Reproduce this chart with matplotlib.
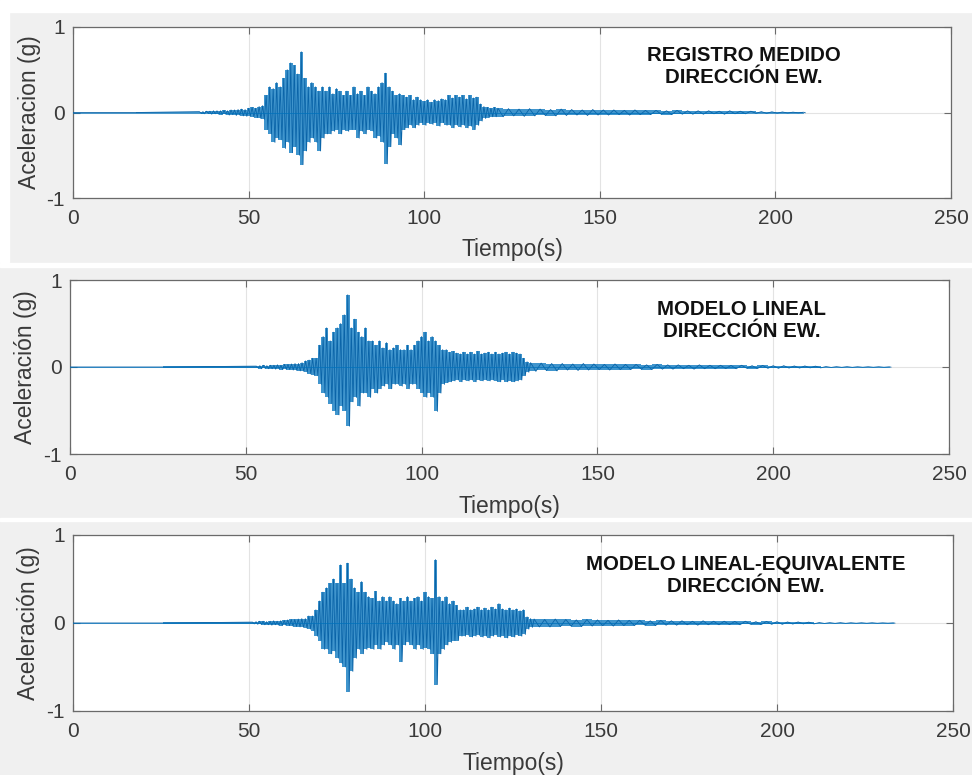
import numpy as np
import matplotlib.pyplot as plt
from matplotlib.patches import Rectangle

plt.rcParams['font.family'] = ['Liberation Sans', 'DejaVu Sans']
plt.rcParams['axes.unicode_minus'] = False

# --- datos (picos por segundo) ---
# registro medido
t1_fuerte = np.arange(36, 122)
pos1_fuerte = [0.01, 0.01, 0.015, 0.015, 0.02, 0.02, 0.02, 0.025, 0.02, 0.03,
               0.03, 0.035, 0.04, 0.035, 0.05, 0.06, 0.05, 0.07, 0.08, 0.2,
               0.3, 0.28, 0.35, 0.3, 0.4, 0.5, 0.58, 0.55, 0.45, 0.71,
               0.4, 0.3, 0.35, 0.3, 0.25, 0.3, 0.25, 0.3, 0.22, 0.28,
               0.25, 0.2, 0.25, 0.2, 0.3, 0.22, 0.25, 0.2, 0.3, 0.25,
               0.22, 0.3, 0.35, 0.46, 0.3, 0.25, 0.2, 0.22, 0.2, 0.18,
               0.2, 0.15, 0.18, 0.15, 0.13, 0.15, 0.12, 0.15, 0.14, 0.16,
               0.15, 0.2, 0.17, 0.2, 0.18, 0.2, 0.16, 0.2, 0.17, 0.18,
               0.1, 0.07, 0.06, 0.05, 0.06, 0.05]
neg1_fuerte = [-0.01, -0.015, -0.01, -0.02, -0.015, -0.02, -0.025, -0.02, -0.03, -0.025,
               -0.035, -0.03, -0.04, -0.045, -0.04, -0.05, -0.06, -0.07, -0.08, -0.2,
               -0.25, -0.35, -0.3, -0.32, -0.42, -0.35, -0.47, -0.4, -0.5, -0.61,
               -0.45, -0.35, -0.3, -0.35, -0.45, -0.3, -0.25, -0.25, -0.22, -0.2,
               -0.25, -0.2, -0.22, -0.2, -0.2, -0.3, -0.22, -0.25, -0.2, -0.22,
               -0.3, -0.28, -0.35, -0.6, -0.4, -0.25, -0.3, -0.38, -0.2, -0.18,
               -0.15, -0.18, -0.15, -0.12, -0.15, -0.12, -0.14, -0.12, -0.16, -0.12,
               -0.15, -0.15, -0.18, -0.15, -0.17, -0.15, -0.18, -0.16, -0.2, -0.15,
               -0.1, -0.07, -0.06, -0.05, -0.05, -0.05]
t1_cola = np.arange(124, 209, 3)
pos1_cola = [0.045, 0.04, 0.045, 0.04, 0.035, 0.04, 0.035, 0.03, 0.035, 0.03,
             0.03, 0.025, 0.03, 0.025, 0.025, 0.02, 0.025, 0.02, 0.02, 0.02,
             0.015, 0.02, 0.015, 0.015, 0.01, 0.008, 0.006, 0.004, 0.003]
neg1_cola = [-0.04, -0.045, -0.04, -0.035, -0.04, -0.035, -0.03, -0.035, -0.03, -0.03,
             -0.025, -0.03, -0.025, -0.025, -0.02, -0.025, -0.02, -0.02, -0.02, -0.015,
             -0.02, -0.015, -0.015, -0.01, -0.01, -0.008, -0.006, -0.004, -0.003]

# modelo lineal
t2_fuerte = np.arange(53, 132)
pos2_fuerte = [0.01, 0.015, 0.02, 0.015, 0.02, 0.02, 0.025, 0.02, 0.03, 0.03,
               0.035, 0.04, 0.04, 0.05, 0.07, 0.08, 0.1, 0.1, 0.25, 0.35,
               0.45, 0.3, 0.4, 0.45, 0.5, 0.6, 0.83, 0.45, 0.55, 0.4,
               0.35, 0.45, 0.3, 0.3, 0.25, 0.3, 0.22, 0.28, 0.2, 0.22,
               0.25, 0.2, 0.2, 0.25, 0.2, 0.25, 0.3, 0.35, 0.4, 0.3,
               0.35, 0.3, 0.25, 0.2, 0.2, 0.17, 0.18, 0.16, 0.15, 0.17,
               0.15, 0.17, 0.15, 0.18, 0.15, 0.16, 0.17, 0.15, 0.17, 0.15,
               0.16, 0.17, 0.15, 0.17, 0.16, 0.15, 0.1, 0.06, 0.05]
neg2_fuerte = [-0.01, -0.02, -0.015, -0.02, -0.02, -0.025, -0.02, -0.03, -0.025, -0.03,
               -0.035, -0.04, -0.045, -0.05, -0.06, -0.08, -0.09, -0.1, -0.2, -0.3,
               -0.35, -0.42, -0.5, -0.55, -0.45, -0.5, -0.68, -0.4, -0.35, -0.45,
               -0.3, -0.3, -0.35, -0.25, -0.3, -0.25, -0.22, -0.2, -0.25, -0.2,
               -0.2, -0.22, -0.2, -0.25, -0.2, -0.2, -0.25, -0.3, -0.35, -0.3,
               -0.35, -0.51, -0.3, -0.2, -0.18, -0.17, -0.16, -0.15, -0.17, -0.15,
               -0.16, -0.15, -0.17, -0.15, -0.16, -0.15, -0.16, -0.15, -0.16, -0.17,
               -0.15, -0.17, -0.16, -0.17, -0.16, -0.15, -0.1, -0.06, -0.05]
t2_cola = np.arange(134, 234, 3)
pos2_cola = [0.045, 0.04, 0.04, 0.035, 0.04, 0.035, 0.03, 0.035, 0.03, 0.03,
             0.025, 0.03, 0.025, 0.025, 0.02, 0.025, 0.02, 0.02, 0.018, 0.02,
             0.015, 0.018, 0.015, 0.015, 0.012, 0.012, 0.01, 0.005, 0.004, 0.004,
             0.003, 0.003, 0.003, 0.002]
neg2_cola = [-0.04, -0.045, -0.035, -0.04, -0.035, -0.03, -0.035, -0.03, -0.03, -0.025,
             -0.03, -0.025, -0.025, -0.02, -0.025, -0.02, -0.02, -0.018, -0.02, -0.015,
             -0.018, -0.015, -0.015, -0.012, -0.012, -0.01, -0.01, -0.005, -0.004, -0.004,
             -0.003, -0.003, -0.003, -0.002]

# modelo lineal-equivalente
t3_fuerte = np.arange(51, 132)
pos3_fuerte = [0.01, 0.015, 0.02, 0.02, 0.015, 0.02, 0.025, 0.02, 0.025, 0.03,
               0.035, 0.04, 0.04, 0.045, 0.05, 0.05, 0.08, 0.08, 0.15, 0.25,
               0.35, 0.4, 0.45, 0.5, 0.45, 0.66, 0.45, 0.68, 0.5, 0.4,
               0.35, 0.47, 0.35, 0.3, 0.28, 0.36, 0.25, 0.3, 0.25, 0.3,
               0.25, 0.22, 0.28, 0.25, 0.3, 0.25, 0.28, 0.3, 0.25, 0.35,
               0.3, 0.28, 0.72, 0.3, 0.25, 0.3, 0.22, 0.25, 0.2, 0.15,
               0.15, 0.18, 0.15, 0.16, 0.18, 0.15, 0.17, 0.15, 0.18, 0.16,
               0.22, 0.16, 0.15, 0.17, 0.15, 0.16, 0.14, 0.15, 0.07, 0.05, 0.045]
neg3_fuerte = [-0.01, -0.015, -0.015, -0.02, -0.02, -0.025, -0.02, -0.025, -0.03, -0.025,
               -0.03, -0.035, -0.04, -0.045, -0.05, -0.06, -0.07, -0.09, -0.15, -0.2,
               -0.3, -0.3, -0.35, -0.32, -0.4, -0.46, -0.5, -0.78, -0.55, -0.4,
               -0.3, -0.35, -0.3, -0.28, -0.3, -0.25, -0.3, -0.25, -0.22, -0.25,
               -0.3, -0.25, -0.44, -0.25, -0.22, -0.25, -0.3, -0.25, -0.3, -0.28,
               -0.3, -0.35, -0.7, -0.35, -0.3, -0.25, -0.22, -0.2, -0.2, -0.15,
               -0.15, -0.14, -0.16, -0.15, -0.14, -0.16, -0.15, -0.17, -0.15, -0.14,
               -0.16, -0.15, -0.17, -0.15, -0.16, -0.14, -0.15, -0.13, -0.07, -0.05, -0.045]
t3_cola = np.arange(134, 234, 3)
pos3_cola = [0.04, 0.045, 0.04, 0.035, 0.04, 0.035, 0.03, 0.035, 0.03, 0.03,
             0.025, 0.03, 0.025, 0.025, 0.02, 0.025, 0.02, 0.02, 0.018, 0.02,
             0.015, 0.018, 0.015, 0.012, 0.012, 0.01, 0.005, 0.004, 0.004, 0.003,
             0.003, 0.003, 0.002, 0.002]
neg3_cola = [-0.045, -0.04, -0.035, -0.04, -0.035, -0.03, -0.035, -0.03, -0.03, -0.025,
             -0.03, -0.025, -0.025, -0.02, -0.025, -0.02, -0.02, -0.018, -0.02, -0.015,
             -0.018, -0.015, -0.015, -0.012, -0.01, -0.01, -0.005, -0.004, -0.004, -0.003,
             -0.003, -0.003, -0.002, -0.002]

titulos = ['REGISTRO MEDIDO\nDIRECCIÓN EW.',
           'MODELO LINEAL\nDIRECCIÓN EW.',
           'MODELO LINEAL-EQUIVALENTE\nDIRECCIÓN EW.']
etiquetas_y = ['Aceleracion (g)', 'Aceleración (g)', 'Aceleración (g)']
xticks = [0, 50, 100, 150, 200, 250]
yticks = [-1, 0, 1]

series = [
    (t1_fuerte, pos1_fuerte, neg1_fuerte, t1_cola, pos1_cola, neg1_cola),
    (t2_fuerte, pos2_fuerte, neg2_fuerte, t2_cola, pos2_cola, neg2_cola),
    (t3_fuerte, pos3_fuerte, neg3_fuerte, t3_cola, pos3_cola, neg3_cola),
]


def zigzag(t, pos, neg):
    # alterna pico positivo y negativo dentro de cada intervalo
    t = np.asarray(t, float)
    dt = np.diff(t, append=t[-1] + 1)
    x = np.column_stack([t, t + dt / 2]).ravel()
    y = np.column_stack([pos, neg]).ravel()
    return x, y


W, H = 972, 775
fig = plt.figure(figsize=(W / 100, H / 100), dpi=100, facecolor='#f0f0f0')

# franjas blancas de la captura
for (x0, y0, w, h) in [(0, 0, W, 12), (0, 0, 9, 262), (0, 263, W, 4), (0, 518, W, 3)]:
    fig.patches.append(Rectangle((x0 / W, 1 - (y0 + h) / H), w / W, h / H,
                                 transform=fig.transFigure, color='white', zorder=-1))

cajas = [(73, 27, 951, 198), (70, 280, 949, 454), (73, 535, 953, 711)]
azul = '#0072bd'
gris = '#6a6a6a'

for i, (x0, y0, x1, y1) in enumerate(cajas):
    ax = fig.add_axes([x0 / W, 1 - y1 / H, (x1 - x0) / W, (y1 - y0) / H])
    tf, pf, nf, tc, pc, nc = series[i]
    t = np.concatenate([[0.0], tf, tc])
    p = np.concatenate([[0.0], pf, pc])
    n = np.concatenate([[0.0], nf, nc])
    ax.fill_between(t, n, p, step='mid', color=azul, lw=0, alpha=0.75, zorder=2)
    x, y = zigzag(t, p, n)
    ax.plot(x, y, color='#0a64a8', lw=0.6, zorder=3)
    ax.plot(t, np.zeros_like(t), color=azul, lw=0.6, alpha=0.8, zorder=3)

    ax.set_xlim(0, 250)
    ax.set_ylim(-1, 1)
    ax.set_xticks(xticks)
    ax.set_yticks(yticks)
    ax.grid(True, color='#e3e3e3', lw=0.8, zorder=0)
    ax.set_axisbelow(True)
    ax.tick_params(direction='in', top=True, right=True, length=5, width=0.8,
                   colors=gris, labelcolor='#3a3a3a', labelsize=15)
    ax.tick_params(axis='x', pad=8)
    ax.tick_params(axis='y', pad=6)
    for s in ax.spines.values():
        s.set_color(gris)
        s.set_linewidth(0.9)
    ax.set_xlabel('Tiempo(s)', fontsize=16.5, color='#3a3a3a')
    ax.xaxis.set_label_coords(0.5, -0.235)
    ax.set_ylabel(etiquetas_y[i], fontsize=16.5, color='#3a3a3a')
    ax.yaxis.set_label_coords(-0.037, 0.5)
    ax.text(191, 0.54, titulos[i], ha='center', va='center', multialignment='center',
            fontsize=14.7, fontweight='bold', color='#111111', linespacing=1.2)

fig.savefig('out.png', dpi=100, facecolor=fig.get_facecolor())
